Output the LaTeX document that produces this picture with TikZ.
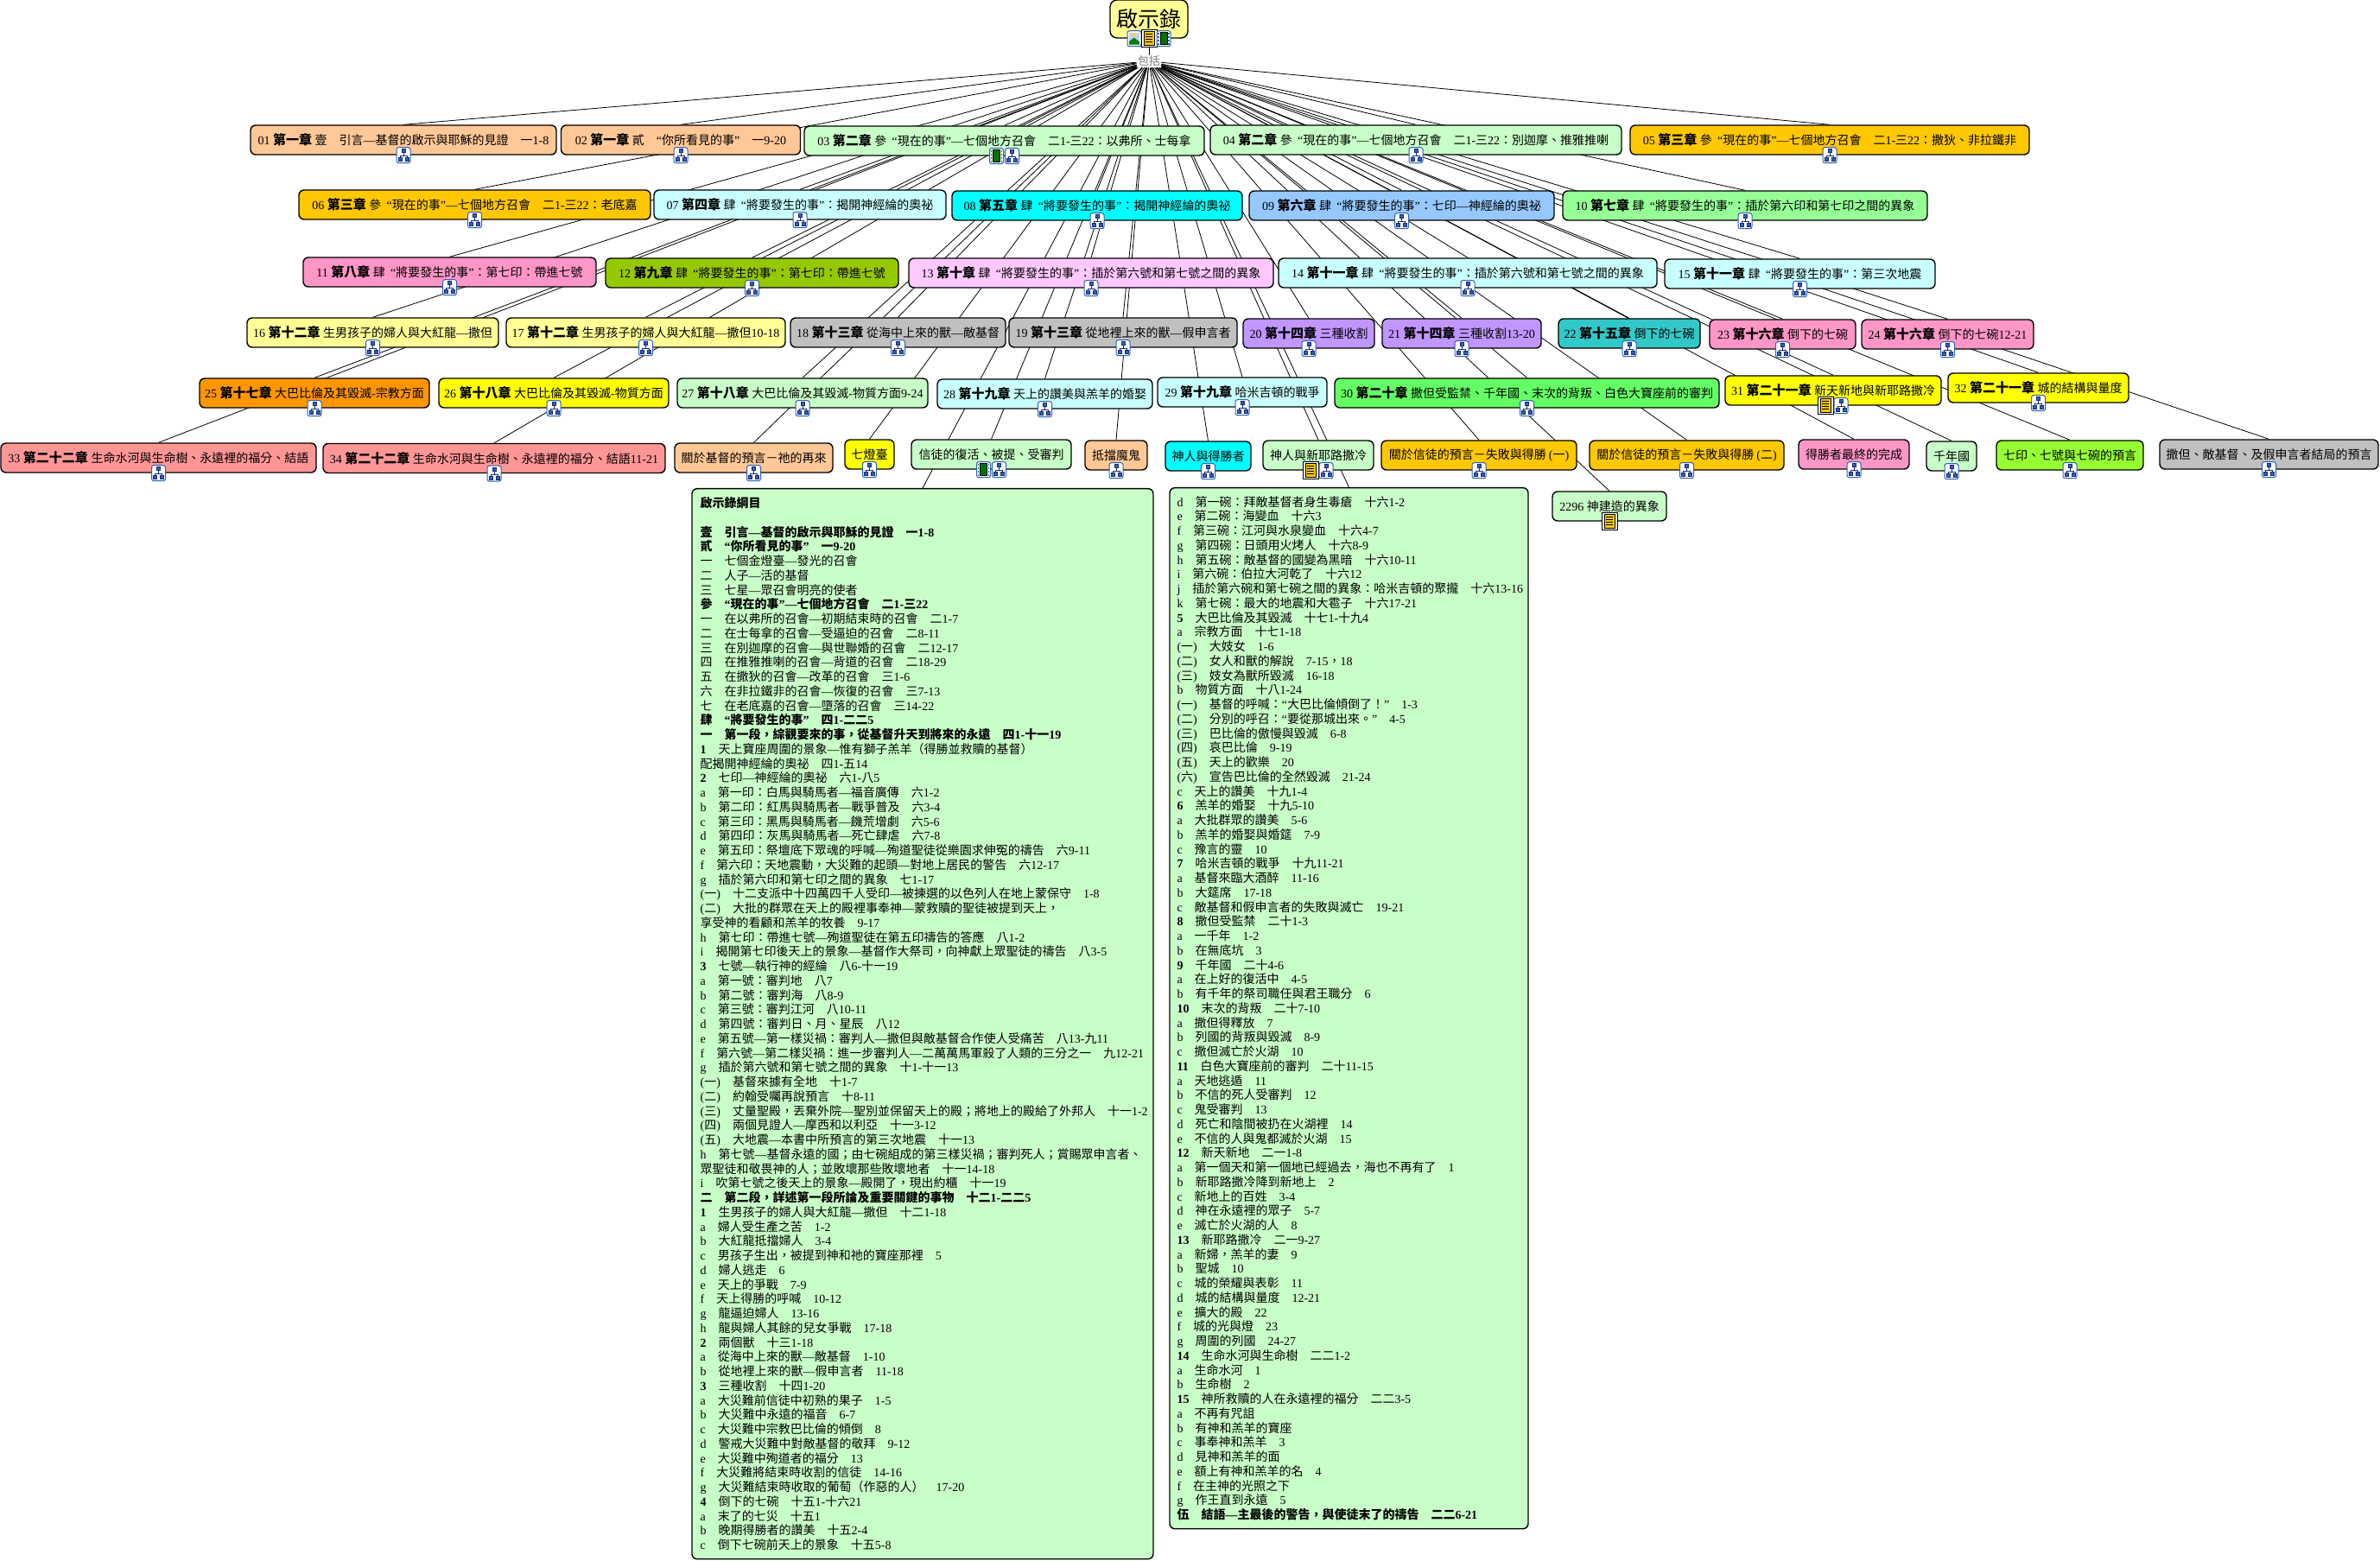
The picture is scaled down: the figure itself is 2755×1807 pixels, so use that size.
\documentclass[tikz,border=0pt]{standalone}
\usepackage{fontspec}
\usetikzlibrary{backgrounds}
\setmainfont{Liberation Serif}
\newfontfamily\cjk{Noto Sans CJK TC}
% latin in the serif, chinese in the cjk family
\XeTeXinterchartokenstate=1
\newXeTeXintercharclass\cjkclass
\newcount\cjkch
\newcommand{\markrange}[2]{\cjkch=#1\relax
  \loop\XeTeXcharclass\cjkch=\cjkclass
  \ifnum\cjkch<#2\relax\advance\cjkch by 1\repeat}
\markrange{"3000}{"30FF}
\markrange{"3400}{"9FFF}
\markrange{"FF00}{"FFEF}
\XeTeXinterchartoks 0 \cjkclass={\cjk}
\XeTeXinterchartoks \cjkclass 0={\rmfamily}
\XeTeXinterchartoks 4095 \cjkclass={\cjk}
\XeTeXinterchartoks 4095 0={\rmfamily}
\newcommand{\chp}[1]{{\fontsize{7.5}{8}\selectfont\bfseries #1}}

\definecolor{peach}{HTML}{FFC896}
\definecolor{paleg}{HTML}{C8FFC8}
\definecolor{gold}{HTML}{FFC800}
\definecolor{palec}{HTML}{C8FFFF}
\definecolor{cyan2}{HTML}{00FFFF}
\definecolor{skyb}{HTML}{96C8FF}
\definecolor{midg}{HTML}{96FF96}
\definecolor{rose}{HTML}{FF96C8}
\definecolor{olive2}{HTML}{96C800}
\definecolor{palem}{HTML}{FFC8FF}
\definecolor{palel}{HTML}{FFFF96}
\definecolor{grey2}{HTML}{C0C0C0}
\definecolor{viol}{HTML}{C096FF}
\definecolor{teal2}{HTML}{32C8C8}
\definecolor{orange2}{HTML}{FF9600}
\definecolor{yell}{HTML}{FFFF00}
\definecolor{brightg}{HTML}{64FF64}
\definecolor{salmon}{HTML}{FF9696}
\definecolor{lime}{HTML}{96FF32}
\definecolor{iconb}{HTML}{2F62B0}
\definecolor{iconn}{HTML}{1A2A80}

\tikzset{
  nbox/.style={draw,rounded corners=3pt,line width=.7pt,inner sep=0pt,minimum height=17pt,
    font=\fontsize{7}{8.375}\selectfont},
  outline/.style={draw,fill=paleg,rounded corners=3pt,line width=.7pt,anchor=north,align=left,
    inner ysep=0pt,font=\fontsize{7}{8.375}\selectfont},
  fan/.style={line width=.6pt},
  treeicon/.pic={
    \draw[iconb,fill=white,rounded corners=1.2pt,line width=.5pt] (-8,-9) rectangle (8,9);
    \draw[iconn,line width=.3pt] (0,-3) -- (0,1) (-4,3) -- (-4,1) -- (4,1) -- (4,3);
    \draw[iconn,fill=iconb,line width=.3pt] (-2,-7) rectangle (2,-3);
    \draw[iconn,fill=iconb,line width=.3pt] (-6,3) rectangle (-2,7);
    \draw[iconn,fill=iconb,line width=.3pt] (2,3) rectangle (6,7);
  },
  noteicon/.pic={
    \draw[black,fill=white,line width=.5pt] (-9,-10) rectangle (9,10);
    \draw[black,fill=yellow!60!orange,line width=.4pt] (-6,-8) rectangle (6,8);
    \draw[black,line width=.4pt] (-4,-5) -- (4,-5) (-4,-2) -- (4,-2) (-4,1) -- (4,1) (-4,4) -- (4,4);
  },
  filmicon/.pic={
    \draw[iconb,fill=white,rounded corners=1.2pt,line width=.5pt] (-8,-9) rectangle (8,9);
    \draw[black,fill=green!45!black,line width=.3pt] (-4,-7) rectangle (4,7);
    \draw[iconb,line width=.8pt,dash pattern=on 1pt off 1pt] (-6,-7) -- (-6,7) (6,-7) -- (6,7);
  },
  photoicon/.pic={
    \draw[iconb,fill=white,rounded corners=1.2pt,line width=.5pt] (-8,-9) rectangle (8,9);
    \fill[blue!20] (-6,-7) rectangle (6,7);
    \fill[green!50!black] (-6,7) -- (-6,3) -- (0,-1) -- (6,4) -- (6,7) -- cycle;
    \fill[yellow!80!orange] (0,-4) circle (2);
  },
}

\begin{document}
\begin{tikzpicture}[x=0.5pt,y=-0.5pt]
  \useasboundingbox (0,0) rectangle (2755,1807);
  \node[nbox,fill=palel,minimum width=45pt,minimum height=22pt,rounded corners=4pt,font=\fontsize{12.5}{14}\selectfont] (root) at (1330,22) {\raisebox{1pt}{啟示錄}};
  \node[inner sep=.5pt,fill=white,text=gray,font=\fontsize{6.5}{7}\selectfont] (lbl) at (1330,71) {包括};

  \node[nbox,fill=peach,minimum width=177pt] (n01) at (467,162) {01 \chp{第一章} 壹\quad 引言—基督的啟示與耶穌的見證\quad 一1-8};
  \node[nbox,fill=peach,minimum width=138.5pt] (n02) at (788,162) {02 \chp{第一章} 貳\quad “你所看見的事”\quad 一9-20};
  \node[nbox,fill=paleg,minimum width=231.5pt] (n03) at (1162.5,163) {03 \chp{第二章} 參~~“現在的事”—七個地方召會\quad 二1-三22：以弗所、士每拿};
  \node[nbox,fill=paleg,minimum width=238pt] (n04) at (1639,162) {04 \chp{第二章} 參~~“現在的事”—七個地方召會\quad 二1-三22：別迦摩、推雅推喇};
  \node[nbox,fill=gold,minimum width=231pt] (n05) at (2118,162) {05 \chp{第三章} 參~~“現在的事”—七個地方召會\quad 二1-三22：撒狄、非拉鐵非};
  \node[nbox,fill=gold,minimum width=203.5pt] (n06) at (549.5,237) {06 \chp{第三章} 參~~“現在的事”—七個地方召會\quad 二1-三22：老底嘉};
  \node[nbox,fill=palec,minimum width=169pt] (n07) at (926,237) {07 \chp{第四章} 肆~~“將要發生的事”：揭開神經綸的奧祕};
  \node[nbox,fill=cyan2,minimum width=168pt] (n08) at (1270,238) {08 \chp{第五章} 肆~~“將要發生的事”：揭開神經綸的奧祕};
  \node[nbox,fill=skyb,minimum width=176.5pt] (n09) at (1622.5,238) {09 \chp{第六章} 肆~~“將要發生的事”：七印—神經綸的奧祕};
  \node[nbox,fill=midg,minimum width=211pt] (n10) at (2020,238) {10 \chp{第七章} 肆~~“將要發生的事”：插於第六印和第七印之間的異象};
  \node[nbox,fill=rose,minimum width=169.5pt] (n11) at (520.5,315) {11 \chp{第八章} 肆~~“將要發生的事”：第七印：帶進七號};
  \node[nbox,fill=olive2,minimum width=169.5pt] (n12) at (870.5,316) {12 \chp{第九章} 肆~~“將要發生的事”：第七印：帶進七號};
  \node[nbox,fill=palem,minimum width=211pt] (n13) at (1263,316) {13 \chp{第十章} 肆~~“將要發生的事”：插於第六號和第七號之間的異象};
  \node[nbox,fill=palec,minimum width=219pt] (n14) at (1699,316) {14 \chp{第十一章} 肆~~“將要發生的事”：插於第六號和第七號之間的異象};
  \node[nbox,fill=palec,minimum width=156.5pt] (n15) at (2083.5,317) {15 \chp{第十一章} 肆~~“將要發生的事”：第三次地震};
  \node[nbox,fill=palel,minimum width=145.5pt] (n16) at (431.5,385) {16 \chp{第十二章} 生男孩子的婦人與大紅龍—撒但};
  \node[nbox,fill=palel,minimum width=161.5pt] (n17) at (747.5,385) {17 \chp{第十二章} 生男孩子的婦人與大紅龍—撒但10-18};
  \node[nbox,fill=grey2,minimum width=124.5pt] (n18) at (1039.5,385) {18 \chp{第十三章} 從海中上來的獸—敵基督};
  \node[nbox,fill=grey2,minimum width=132pt] (n19) at (1300,385) {19 \chp{第十三章} 從地裡上來的獸—假申言者};
  \node[nbox,fill=viol,minimum width=76pt] (n20) at (1515,386) {20 \chp{第十四章} 三種收割};
  \node[nbox,fill=viol,minimum width=92pt] (n21) at (1692,386) {21 \chp{第十四章} 三種收割13-20};
  \node[nbox,fill=teal2,minimum width=82pt] (n22) at (1886,386) {22 \chp{第十五章} 倒下的七碗};
  \node[nbox,fill=rose,minimum width=84.5pt] (n23) at (2063.5,387) {23 \chp{第十六章} 倒下的七碗};
  \node[nbox,fill=rose,minimum width=99.5pt] (n24) at (2254.5,387) {24 \chp{第十六章} 倒下的七碗12-21};
  \node[nbox,fill=orange2,minimum width=133pt] (n25) at (364,455) {25 \chp{第十七章} 大巴比倫及其毀滅-宗教方面};
  \node[nbox,fill=yell,minimum width=133pt] (n26) at (641,455) {26 \chp{第十八章} 大巴比倫及其毀滅-物質方面};
  \node[nbox,fill=paleg,minimum width=145pt] (n27) at (929,455) {27 \chp{第十八章} 大巴比倫及其毀滅-物質方面9-24};
  \node[nbox,fill=palec,minimum width=124.5pt] (n28) at (1209.5,456) {28 \chp{第十九章} 天上的讚美與羔羊的婚娶};
  \node[nbox,fill=palec,minimum width=98pt] (n29) at (1438,454) {29 \chp{第十九章} 哈米吉頓的戰爭};
  \node[nbox,fill=brightg,minimum width=222.5pt] (n30) at (1767.5,455) {30 \chp{第二十章} 撒但受監禁、千年國、末次的背叛、白色大寶座前的審判};
  \node[nbox,fill=yell,minimum width=125pt] (n31) at (2122,452) {31 \chp{第二十一章} 新天新地與新耶路撒冷};
  \node[nbox,fill=yell,minimum width=104.5pt] (n32) at (2359.5,449) {32 \chp{第二十一章} 城的結構與量度};
  \node[nbox,fill=salmon,minimum width=182.5pt] (n33) at (183.5,530) {33 \chp{第二十二章} 生命水河與生命樹、永遠裡的福分、結語};
  \node[nbox,fill=salmon,minimum width=198pt] (n34) at (572,530.5) {34 \chp{第二十二章} 生命水河與生命樹、永遠裡的福分、結語11-21};

  \node[nbox,fill=peach,minimum width=91.5pt] (k01) at (872.5,530) {關於基督的預言－祂的再來};
  \node[nbox,fill=yell,minimum width=28.5pt] (k02) at (1006.5,526) {七燈臺};
  \node[nbox,fill=paleg,minimum width=92.5pt] (k03) at (1147.5,526) {信徒的復活、被提、受審判};
  \node[nbox,fill=peach,minimum width=36pt] (k04) at (1292,527) {抵擋魔鬼};
  \node[nbox,fill=cyan2,minimum width=49.5pt] (k05) at (1398.5,528) {神人與得勝者};
  \node[nbox,fill=paleg,minimum width=64pt] (k06) at (1526,527) {神人與新耶路撒冷};
  \node[nbox,fill=gold,minimum width=113pt] (k07) at (1712,527) {關於信徒的預言－失敗與得勝 (一)};
  \node[nbox,fill=gold,minimum width=112.5pt] (k08) at (1952.5,527) {關於信徒的預言－失敗與得勝 (二)};
  \node[nbox,fill=rose,minimum width=64pt] (k09) at (2146,526) {得勝者最終的完成};
  \node[nbox,fill=paleg,minimum width=29pt] (k10) at (2259,528) {千年國};
  \node[nbox,fill=lime,minimum width=85pt] (k11) at (2396,527) {七印、七號與七碗的預言};
  \node[nbox,fill=grey2,minimum width=126.5pt] (k12) at (2626.5,526) {撒但、敵基督、及假申言者結局的預言};
  \node[nbox,fill=paleg,minimum width=66pt] (k13) at (1863,586) {2296 神建造的異象};

  \node[outline,inner xsep=4.85pt,text width=257.3pt,minimum height=619.5pt] (box1) at (1068,565) {\textbf{啟示錄綱目}\\
~\\
\textbf{壹\quad 引言—基督的啟示與耶穌的見證\quad 一1-8}\\
\textbf{貳\quad “你所看見的事”\quad 一9-20}\\
一\quad 七個金燈臺—發光的召會\\
二\quad 人子—活的基督\\
三\quad 七星—眾召會明亮的使者\\
\textbf{參\quad “現在的事”—七個地方召會\quad 二1-三22}\\
一\quad 在以弗所的召會—初期結束時的召會\quad 二1-7\\
二\quad 在士每拿的召會—受逼迫的召會\quad 二8-11\\
三\quad 在別迦摩的召會—與世聯婚的召會\quad 二12-17\\
四\quad 在推雅推喇的召會—背道的召會\quad 二18-29\\
五\quad 在撒狄的召會—改革的召會\quad 三1-6\\
六\quad 在非拉鐵非的召會—恢復的召會\quad 三7-13\\
七\quad 在老底嘉的召會—墮落的召會\quad 三14-22\\
\textbf{肆\quad “將要發生的事”\quad 四1-二二5}\\
\textbf{一\quad 第一段，綜觀要來的事，從基督升天到將來的永遠\quad 四1-十一19}\\
\textbf{1}\quad 天上寶座周圍的景象—惟有獅子羔羊（得勝並救贖的基督）\\
配揭開神經綸的奧祕\quad 四1-五14\\
\textbf{2}\quad 七印—神經綸的奧祕\quad 六1-八5\\
a\quad 第一印：白馬與騎馬者—福音廣傳\quad 六1-2\\
b\quad 第二印：紅馬與騎馬者—戰爭普及\quad 六3-4\\
c\quad 第三印：黑馬與騎馬者—饑荒增劇\quad 六5-6\\
d\quad 第四印：灰馬與騎馬者—死亡肆虐\quad 六7-8\\
e\quad 第五印：祭壇底下眾魂的呼喊—殉道聖徒從樂園求伸冤的禱告\quad 六9-11\\
f\quad 第六印：天地震動，大災難的起頭—對地上居民的警告\quad 六12-17\\
g\quad 插於第六印和第七印之間的異象\quad 七1-17\\
(一)\quad 十二支派中十四萬四千人受印—被揀選的以色列人在地上蒙保守\quad 1-8\\
(二)\quad 大批的群眾在天上的殿裡事奉神—蒙救贖的聖徒被提到天上，\\
享受神的看顧和羔羊的牧養\quad 9-17\\
h\quad 第七印：帶進七號—殉道聖徒在第五印禱告的答應\quad 八1-2\\
i\quad 揭開第七印後天上的景象—基督作大祭司，向神獻上眾聖徒的禱告\quad 八3-5\\
\textbf{3}\quad 七號—執行神的經綸\quad 八6-十一19\\
a\quad 第一號：審判地\quad 八7\\
b\quad 第二號：審判海\quad 八8-9\\
c\quad 第三號：審判江河\quad 八10-11\\
d\quad 第四號：審判日、月、星辰\quad 八12\\
e\quad 第五號—第一樣災禍：審判人—撒但與敵基督合作使人受痛苦\quad 八13-九11\\
\mbox{f\quad 第六號—第二樣災禍：進一步審判人—二萬萬馬軍殺了人類的三分之一\quad 九12-21}\\
g\quad 插於第六號和第七號之間的異象\quad 十1-十一13\\
(一)\quad 基督來據有全地\quad 十1-7\\
(二)\quad 約翰受囑再說預言\quad 十8-11\\
\mbox{(三)\quad 丈量聖殿，丟棄外院—聖別並保留天上的殿；將地上的殿給了外邦人\quad 十一1-2}\\
(四)\quad 兩個見證人—摩西和以利亞\quad 十一3-12\\
(五)\quad 大地震—本書中所預言的第三次地震\quad 十一13\\
h\quad 第七號—基督永遠的國；由七碗組成的第三樣災禍；審判死人；賞賜眾申言者、\\
眾聖徒和敬畏神的人；並敗壞那些敗壞地者\quad 十一14-18\\
i\quad 吹第七號之後天上的景象—殿開了，現出約櫃\quad 十一19\\
\textbf{二\quad 第二段，詳述第一段所論及重要關鍵的事物\quad 十二1-二二5}\\
\textbf{1}\quad 生男孩子的婦人與大紅龍—撒但\quad 十二1-18\\
a\quad 婦人受生產之苦\quad 1-2\\
b\quad 大紅龍抵擋婦人\quad 3-4\\
c\quad 男孩子生出，被提到神和祂的寶座那裡\quad 5\\
d\quad 婦人逃走\quad 6\\
e\quad 天上的爭戰\quad 7-9\\
f\quad 天上得勝的呼喊\quad 10-12\\
g\quad 龍逼迫婦人\quad 13-16\\
h\quad 龍與婦人其餘的兒女爭戰\quad 17-18\\
\textbf{2}\quad 兩個獸\quad 十三1-18\\
a\quad 從海中上來的獸—敵基督\quad 1-10\\
b\quad 從地裡上來的獸—假申言者\quad 11-18\\
\textbf{3}\quad 三種收割\quad 十四1-20\\
a\quad 大災難前信徒中初熟的果子\quad 1-5\\
b\quad 大災難中永遠的福音\quad 6-7\\
c\quad 大災難中宗教巴比倫的傾倒\quad 8\\
d\quad 警戒大災難中對敵基督的敬拜\quad 9-12\\
e\quad 大災難中殉道者的福分\quad 13\\
f\quad 大災難將結束時收割的信徒\quad 14-16\\
g\quad 大災難結束時收取的葡萄（作惡的人）\quad 17-20\\
\textbf{4}\quad 倒下的七碗\quad 十五1-十六21\\
a\quad 末了的七災\quad 十五1\\
b\quad 晚期得勝者的讚美\quad 十五2-4\\
c\quad 倒下七碗前天上的景象\quad 十五5-8};

  \node[outline,inner xsep=4.25pt,text width=199pt,minimum height=602.5pt] (box2) at (1561.5,564) {d\quad 第一碗：拜敵基督者身生毒瘡\quad 十六1-2\\
e\quad 第二碗：海變血\quad 十六3\\
f\quad 第三碗：江河與水泉變血\quad 十六4-7\\
g\quad 第四碗：日頭用火烤人\quad 十六8-9\\
h\quad 第五碗：敵基督的國變為黑暗\quad 十六10-11\\
i\quad 第六碗：伯拉大河乾了\quad 十六12\\
\mbox{j\quad 插於第六碗和第七碗之間的異象：哈米吉頓的聚攏\quad 十六13-16}\\
k\quad 第七碗：最大的地震和大雹子\quad 十六17-21\\
\textbf{5}\quad 大巴比倫及其毀滅\quad 十七1-十九4\\
a\quad 宗教方面\quad 十七1-18\\
(一)\quad 大妓女\quad 1-6\\
(二)\quad 女人和獸的解說\quad 7-15，18\\
(三)\quad 妓女為獸所毀滅\quad 16-18\\
b\quad 物質方面\quad 十八1-24\\
(一)\quad 基督的呼喊：“大巴比倫傾倒了！”\quad 1-3\\
(二)\quad 分別的呼召：“要從那城出來。”\quad 4-5\\
(三)\quad 巴比倫的傲慢與毀滅\quad 6-8\\
(四)\quad 哀巴比倫\quad 9-19\\
(五)\quad 天上的歡樂\quad 20\\
(六)\quad 宣告巴比倫的全然毀滅\quad 21-24\\
c\quad 天上的讚美\quad 十九1-4\\
\textbf{6}\quad 羔羊的婚娶\quad 十九5-10\\
a\quad 大批群眾的讚美\quad 5-6\\
b\quad 羔羊的婚娶與婚筵\quad 7-9\\
c\quad 豫言的靈\quad 10\\
\textbf{7}\quad 哈米吉頓的戰爭\quad 十九11-21\\
a\quad 基督來臨大酒醉\quad 11-16\\
b\quad 大筵席\quad 17-18\\
c\quad 敵基督和假申言者的失敗與滅亡\quad 19-21\\
\textbf{8}\quad 撒但受監禁\quad 二十1-3\\
a\quad 一千年\quad 1-2\\
b\quad 在無底坑\quad 3\\
\textbf{9}\quad 千年國\quad 二十4-6\\
a\quad 在上好的復活中\quad 4-5\\
b\quad 有千年的祭司職任與君王職分\quad 6\\
\textbf{10}\quad 末次的背叛\quad 二十7-10\\
a\quad 撒但得釋放\quad 7\\
b\quad 列國的背叛與毀滅\quad 8-9\\
c\quad 撒但滅亡於火湖\quad 10\\
\textbf{11}\quad 白色大寶座前的審判\quad 二十11-15\\
a\quad 天地逃遁\quad 11\\
b\quad 不信的死人受審判\quad 12\\
c\quad 鬼受審判\quad 13\\
d\quad 死亡和陰間被扔在火湖裡\quad 14\\
e\quad 不信的人與鬼都滅於火湖\quad 15\\
\textbf{12}\quad 新天新地\quad 二一1-8\\
a\quad 第一個天和第一個地已經過去，海也不再有了\quad 1\\
b\quad 新耶路撒冷降到新地上\quad 2\\
c\quad 新地上的百姓\quad 3-4\\
d\quad 神在永遠裡的眾子\quad 5-7\\
e\quad 滅亡於火湖的人\quad 8\\
\textbf{13}\quad 新耶路撒冷\quad 二一9-27\\
a\quad 新婦，羔羊的妻\quad 9\\
b\quad 聖城\quad 10\\
c\quad 城的榮耀與表彰\quad 11\\
d\quad 城的結構與量度\quad 12-21\\
e\quad 擴大的殿\quad 22\\
f\quad 城的光與燈\quad 23\\
g\quad 周圍的列國\quad 24-27\\
\textbf{14}\quad 生命水河與生命樹\quad 二二1-2\\
a\quad 生命水河\quad 1\\
b\quad 生命樹\quad 2\\
\textbf{15}\quad 神所救贖的人在永遠裡的福分\quad 二二3-5\\
a\quad 不再有咒詛\\
b\quad 有神和羔羊的寶座\\
c\quad 事奉神和羔羊\quad 3\\
d\quad 見神和羔羊的面\\
e\quad 額上有神和羔羊的名\quad 4\\
f\quad 在主神的光照之下\\
g\quad 作王直到永遠\quad 5\\
\textbf{伍\quad 結語—主最後的警告，與使徒末了的禱告\quad 二二6-21}};

  \begin{scope}[on background layer,fan]
    \draw (root) to (lbl);
    \draw (lbl) to (n01.north);
    \draw (lbl) to (n02.north);
    \draw (lbl) to (n03.north);
    \draw (lbl) to (n04.north);
    \draw (lbl) to (n05.north);
    \draw (lbl) to (n06.north);
    \draw (lbl) to (n07.north);
    \draw (lbl) to (n08.north);
    \draw (lbl) to (n09.north);
    \draw (lbl) to (n10.north);
    \draw (lbl) to (n11.north);
    \draw (lbl) to (n12.north);
    \draw (lbl) to (n13.north);
    \draw (lbl) to (n14.north);
    \draw (lbl) to (n15.north);
    \draw (lbl) to (n16.north);
    \draw (lbl) to (n17.north);
    \draw (lbl) to (n18.north);
    \draw (lbl) to (n19.north);
    \draw (lbl) to (n20.north);
    \draw (lbl) to (n21.north);
    \draw (lbl) to (n22.north);
    \draw (lbl) to (n23.north);
    \draw (lbl) to (n24.north);
    \draw (lbl) to (n25.north);
    \draw (lbl) to (n26.north);
    \draw (lbl) to (n27.north);
    \draw (lbl) to (n28.north);
    \draw (lbl) to (n29.north);
    \draw (lbl) to (n30.north);
    \draw (lbl) to (n31.north);
    \draw (lbl) to (n32.north);
    \draw (lbl) to (n33.north);
    \draw (lbl) to (n34.north);
    \draw (lbl) to (k01.north);
    \draw (lbl) to (k02.north);
    \draw (lbl) to (k03.north);
    \draw (lbl) to (k04.north);
    \draw (lbl) to (k05.north);
    \draw (lbl) to (k06.north);
    \draw (lbl) to (k07.north);
    \draw (lbl) to (k08.north);
    \draw (lbl) to (k09.north);
    \draw (lbl) to (k10.north);
    \draw (lbl) to (k11.north);
    \draw (lbl) to (k12.north);
    \draw (lbl) to (k13.north);
    \draw (lbl) to (box1.north);
    \draw (lbl) to (box2.north);
  \end{scope}

  % the small icons on the lower edges
  \pic[xshift=-8.5pt] at (root.south) {photoicon};
  \pic at (root.south) {noteicon};
  \pic[xshift=8.5pt] at (root.south) {filmicon};
  \pic at (n01.south) {treeicon};
  \pic at (n02.south) {treeicon};
  \pic[xshift=-4.5pt] at (n03.south) {filmicon};
  \pic[xshift=4.5pt] at (n03.south) {treeicon};
  \pic at (n04.south) {treeicon};
  \pic at (n05.south) {treeicon};
  \pic at (n06.south) {treeicon};
  \pic at (n07.south) {treeicon};
  \pic at (n08.south) {treeicon};
  \pic at (n09.south) {treeicon};
  \pic at (n10.south) {treeicon};
  \pic at (n11.south) {treeicon};
  \pic at (n12.south) {treeicon};
  \pic at (n13.south) {treeicon};
  \pic at (n14.south) {treeicon};
  \pic at (n15.south) {treeicon};
  \pic at (n16.south) {treeicon};
  \pic at (n17.south) {treeicon};
  \pic at (n18.south) {treeicon};
  \pic at (n19.south) {treeicon};
  \pic at (n20.south) {treeicon};
  \pic at (n21.south) {treeicon};
  \pic at (n22.south) {treeicon};
  \pic at (n23.south) {treeicon};
  \pic at (n24.south) {treeicon};
  \pic at (n25.south) {treeicon};
  \pic at (n26.south) {treeicon};
  \pic at (n27.south) {treeicon};
  \pic at (n28.south) {treeicon};
  \pic at (n29.south) {treeicon};
  \pic at (n30.south) {treeicon};
  \pic[xshift=-4.5pt] at (n31.south) {noteicon};
  \pic[xshift=4.5pt] at (n31.south) {treeicon};
  \pic at (n32.south) {treeicon};
  \pic at (n33.south) {treeicon};
  \pic at (n34.south) {treeicon};
  \pic at (k01.south) {treeicon};
  \pic at (k02.south) {treeicon};
  \pic[xshift=-4.5pt] at (k03.south) {filmicon};
  \pic[xshift=4.5pt] at (k03.south) {treeicon};
  \pic at (k04.south) {treeicon};
  \pic at (k05.south) {treeicon};
  \pic[xshift=-4.5pt] at (k06.south) {noteicon};
  \pic[xshift=4.5pt] at (k06.south) {treeicon};
  \pic at (k07.south) {treeicon};
  \pic at (k08.south) {treeicon};
  \pic at (k09.south) {treeicon};
  \pic at (k10.south) {treeicon};
  \pic at (k11.south) {treeicon};
  \pic at (k12.south) {treeicon};
  \pic at (k13.south) {noteicon};
\end{tikzpicture}
\end{document}
